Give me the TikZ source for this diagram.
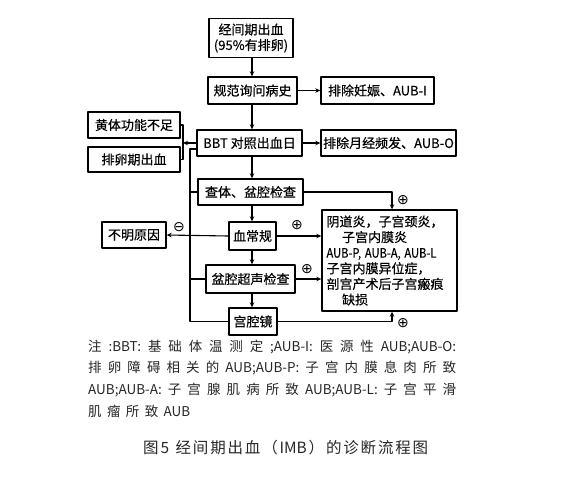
\documentclass[tikz,border=0pt]{standalone}
\usepackage{fontspec}
\setmainfont{Noto Sans CJK SC}
\newfontfamily\boxfont[FakeBold=0.5]{Noto Sans CJK SC}
\newfontfamily\symfont{DejaVu Sans}
\usetikzlibrary{arrows.meta}
% stretchable glue round CJK characters, switched on only where \spreadon is used
\newXeTeXintercharclass\cjkclass
\count255="3000
\loop \XeTeXcharclass\count255=\cjkclass \advance\count255 by 1 \ifnum\count255<"3040 \repeat
\count255="4E00
\loop \XeTeXcharclass\count255=\cjkclass \advance\count255 by 1 \ifnum\count255<"A000 \repeat
\count255="FF00
\loop \XeTeXcharclass\count255=\cjkclass \advance\count255 by 1 \ifnum\count255<"FF60 \repeat
\XeTeXinterchartoks 0 \cjkclass = {\hskip0pt plus 1fil\relax}
\XeTeXinterchartoks \cjkclass 0 = {\hskip0pt plus 1fil\relax}
\XeTeXinterchartoks \cjkclass \cjkclass = {\hskip0pt plus 1fil\relax}
\newcommand{\spreadon}{\XeTeXinterchartokenstate=1 }

\begin{document}
\begin{tikzpicture}[x=1pt, y=-1pt, >={Stealth[length=5pt,width=4.5pt]}, line join=round,
	box/.style={draw, line width=1.4pt, inner sep=1pt, align=center, font=\boxfont\fontsize{13}{15.5}\selectfont},
	link/.style={line width=1.1pt},
	sign/.style={inner sep=0pt, font=\symfont\fontsize{14}{14}\selectfont},
	note/.style={anchor=west, inner sep=0pt, text=black!85, font=\fontsize{13.5}{16}\selectfont}]
	\useasboundingbox (0,0) rectangle (577,490);
	\def \cx{252}
	% main column
	\node[box, minimum width=84pt, minimum height=39pt] (bleed) at (251,38) {经间期出血\\(95\%有排卵)};
	\node[box, minimum width=89pt, minimum height=27pt] (hist) at (252.5,90.5) {规范询问病史};
	\node[box, minimum width=113pt, minimum height=27pt] (preg) at (377.5,90.5) {排除妊娠、AUB-I};
	\node[box, minimum width=105pt, minimum height=26pt] (bbt) at (249.5,143) {BBT 对照出血日};
	\node[box, minimum width=135pt, minimum height=26pt] (freq) at (388.5,143) {排除月经频发、AUB-O};
	\node[box, minimum width=92pt, minimum height=26pt] (luteal) at (134,125) {黄体功能不足};
	\node[box, minimum width=92pt, minimum height=25pt] (ovul) at (134,159.5) {排卵期出血};
	\node[box, minimum width=105pt, minimum height=26pt] (exam) at (250.5,192) {查体、盆腔检查};
	\node[box, minimum width=47pt, minimum height=28pt] (blood) at (252.5,236) {血常规};
	\node[box, minimum width=64pt, minimum height=26pt] (unk) at (134,235) {不明原因};
	\node[box, minimum width=89pt, minimum height=28pt] (us) at (250.5,279) {盆腔超声检查};
	\node[box, minimum width=48pt, minimum height=27pt] (hys) at (253,321.5) {宫腔镜};
	\node[box, minimum width=135pt, minimum height=101pt, text width=126pt, inner sep=4pt, align=left,
		font=\boxfont\fontsize{13}{15.6}\selectfont] (diag) at (389.5,260.5)
		{阴道炎，子宫颈炎，\\\hspace*{1.2em}子宫内膜炎\\\scalebox{0.86}[1]{AUB-P, AUB-A, AUB-L}\\子宫内膜异位症，\\剖宫产术后子宫瘢痕\\\hspace*{1.2em}缺损};
	\coordinate (brk) at (183,143);
	\coordinate (sT) at (190,149);
	\coordinate (sB) at (190,321.5);
	% arrows down the column
	\draw[link,->] (bleed.south -| \cx,0) -- (hist.north -| \cx,0);
	\draw[link,->] (hist.south -| \cx,0) -- (bbt.north -| \cx,0);
	\draw[link,->] (bbt.south -| \cx,0) -- (exam.north -| \cx,0);
	\draw[link,->] (exam.south -| \cx,0) -- (blood.north -| \cx,0);
	\draw[link,->] (blood.south -| \cx,0) -- (us.north -| \cx,0);
	\draw[link,->] (us.south -| \cx,0) -- (hys.north -| \cx,0);
	\draw[link,->] (hist) -- (preg);
	\draw[link,->] (bbt) -- (freq);
	% left side
	\draw[link] (luteal.east) -| (brk) |- (ovul.east);
	\draw[link,->] (bbt.west) -- (brk);
	\draw[link] (bbt.west |- sT) -- (sT) -- (sB) -- (hys.west);
	\draw[link] (exam.west) -- (exam.west -| sT);
	\draw[link] (us.west) -- (us.west -| sT);
	\draw[link,->] (blood.west) -- (unk.east);
	% right side
	\draw[link,->] (exam.east) -| ([xshift=2.5pt]diag.north);
	\draw[link,->] (blood.east) -- (blood.east -| diag.west);
	\draw[link,->] (us.east) -- (us.east -| diag.west);
	\draw[link,->] (hys.east) -| ([xshift=2.5pt]diag.south);
	\node[sign] (s1) at (403,200) {⊕};
	\node[sign] (s2) at (297,225) {⊕};
	\node[sign] (s3) at (307,269) {⊕};
	\node[sign] (s4) at (403,323) {⊕};
	\node[sign] (s5) at (179,227) {⊖};
	% notes and caption
	\node[note] (n1) at (88,347) {\makebox[368pt][s]{\spreadon 注:BBT:基础体温测定;AUB-I:医源性AUB;AUB-O:}};
	\node[note] (n2) at (88,368.5) {\makebox[368pt][s]{\spreadon 排卵障碍相关的AUB;AUB-P:子宫内膜息肉所致}};
	\node[note] (n3) at (88,390) {\makebox[368pt][s]{\spreadon AUB;AUB-A:子宫腺肌病所致AUB;AUB-L:子宫平滑}};
	\node[note] (n4) at (88,411.5) {\makebox[102pt][s]{\spreadon 肌瘤所致AUB}};
	\node[note, font=\fontsize{15.5}{18}\selectfont] (cap) at (143,448) {\makebox[285pt][s]{\spreadon 图5\hspace{0.3em plus 1fil}经间期出血（IMB）的诊断流程图}};
\end{tikzpicture}
\end{document}
